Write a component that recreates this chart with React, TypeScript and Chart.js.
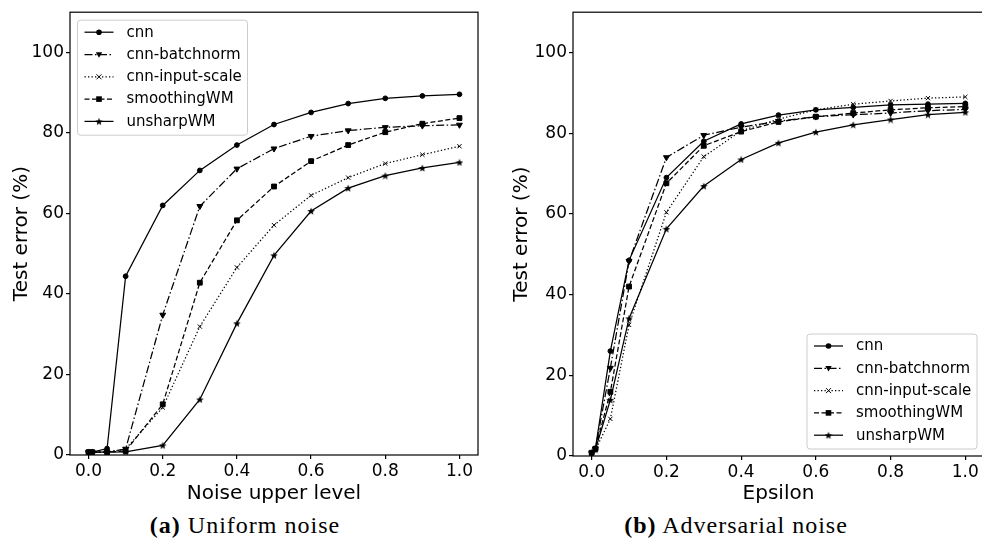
import React, { useEffect, useRef } from 'react';
import { Chart, registerables } from 'chart.js';

Chart.register(...registerables);

// ---------- data ----------
const xValues = [0, 0.01, 0.05, 0.1, 0.2, 0.3, 0.4, 0.5, 0.6, 0.7, 0.8, 0.9, 1.0];
const seriesNames = ['cnn', 'cnn-batchnorm', 'cnn-input-scale', 'smoothingWM', 'unsharpWM'];
const xTicks = [0, 0.2, 0.4, 0.6, 0.8, 1.0];
const yTicks = [0, 20, 40, 60, 80, 100];

// (a) Uniform noise
const uniformCnn = [0.7, 0.7, 1.6, 44.4, 62.0, 70.7, 77.0, 82.1, 85.1, 87.3, 88.6, 89.2, 89.6];
const uniformBatchnorm = [0.7, 0.7, 0.7, 1.5, 34.8, 61.8, 71.1, 76.1, 79.2, 80.6, 81.4, 81.8, 82.0];
const uniformInputScale = [0.7, 0.7, 0.7, 1.5, 11.8, 31.9, 46.6, 57.1, 64.5, 68.9, 72.4, 74.6, 76.7];
const uniformSmoothing = [0.7, 0.7, 0.7, 1.0, 12.6, 42.8, 58.3, 66.7, 73.0, 77.0, 80.2, 82.3, 83.7];
const uniformUnsharp = [0.7, 0.7, 0.7, 0.8, 2.4, 13.8, 32.7, 49.6, 60.6, 66.3, 69.4, 71.3, 72.7];

// (b) Adversarial noise
const advCnn = [0.8, 1.9, 26.0, 48.5, 69.0, 78.0, 82.3, 84.5, 85.8, 86.4, 87.0, 87.2, 87.4];
const advBatchnorm = [0.8, 1.8, 21.8, 48.3, 74.0, 79.5, 81.5, 83.0, 84.1, 84.6, 85.0, 85.6, 85.9];
const advInputScale = [0.8, 1.5, 9.2, 32.5, 60.4, 74.2, 80.6, 83.5, 85.8, 87.2, 88.0, 88.7, 89.0];
const advSmoothing = [0.8, 1.8, 15.9, 42.0, 67.6, 76.9, 80.4, 82.8, 84.1, 85.0, 85.8, 86.3, 86.6];
const advUnsharp = [0.8, 1.6, 13.9, 34.1, 56.3, 66.9, 73.5, 77.6, 80.3, 82.1, 83.4, 84.6, 85.2];

// ---------- styles ----------
const FONT = "'DejaVu Sans', sans-serif";
const dashes = [[], [8, 2.5, 1.5, 2.5], [1.3, 2.2], [5, 2.5], []];
const markerKinds = ['circle', 'triangleDown', 'x', 'square', 'star'];

function makeStar(size: number) {
  const c = document.createElement('canvas');
  c.width = size;
  c.height = size;
  const ctx = c.getContext('2d')!;
  const cx = size / 2, cy = size / 2 + 0.4, R = size / 2, r = R * 0.42;
  ctx.beginPath();
  for (let i = 0; i < 10; i++) {
    const rad = i % 2 === 0 ? R : r;
    const a = -Math.PI / 2 + (i * Math.PI) / 5;
    const px = cx + rad * Math.cos(a), py = cy + rad * Math.sin(a);
    if (i === 0) ctx.moveTo(px, py); else ctx.lineTo(px, py);
  }
  ctx.closePath();
  ctx.fillStyle = '#000';
  ctx.fill();
  return c;
}

function drawMarker(ctx: CanvasRenderingContext2D, kind: string, x: number, y: number, star: HTMLCanvasElement) {
  ctx.save();
  ctx.setLineDash([]);
  ctx.fillStyle = '#000';
  ctx.strokeStyle = '#000';
  ctx.lineWidth = 1;
  ctx.beginPath();
  if (kind === 'circle') {
    ctx.arc(x, y, 2.8, 0, Math.PI * 2);
    ctx.fill();
  } else if (kind === 'triangleDown') {
    ctx.moveTo(x - 3.2, y - 2.2);
    ctx.lineTo(x + 3.2, y - 2.2);
    ctx.lineTo(x, y + 3.2);
    ctx.closePath();
    ctx.fill();
  } else if (kind === 'x') {
    ctx.moveTo(x - 2.5, y - 2.5); ctx.lineTo(x + 2.5, y + 2.5);
    ctx.moveTo(x + 2.5, y - 2.5); ctx.lineTo(x - 2.5, y + 2.5);
    ctx.stroke();
  } else if (kind === 'square') {
    ctx.fillRect(x - 2.8, y - 2.8, 5.6, 5.6);
  } else if (kind === 'star') {
    ctx.drawImage(star, x - star.width / 2, y - star.height / 2);
  }
  ctx.restore();
}

type Layout = {
  width: number;
  height: number;
  yAxisWidth: number;
  padRight: number;
  top: number;
  bottom: number;
  legend: 'topleft' | 'bottomright';
};

function makeConfig(values: number[][], xTitle: string, lay: Layout) {
  const star = makeStar(8);
  const pointStyles: any[] = ['circle', 'triangle', 'crossRot', 'rect', star];
  const pointRadius = [2.4, 3.4, 3, 3.4, 4];
  const pointRotation = [0, 180, 0, 0, 0];

  const datasets = values.map((vals, i) => ({
    label: seriesNames[i],
    data: xValues.map((x, j) => ({ x, y: vals[j] })),
    borderColor: '#000',
    backgroundColor: '#000',
    borderWidth: 1.25,
    borderDash: dashes[i],
    pointStyle: pointStyles[i],
    pointRadius: pointRadius[i],
    pointRotation: pointRotation[i],
    pointBackgroundColor: '#000',
    pointBorderColor: '#000',
    pointBorderWidth: 1,
    tension: 0,
    fill: false,
  }));

  const framePlugin = {
    id: 'frame',
    afterDraw(chart: any) {
      const { ctx, chartArea } = chart;
      ctx.save();
      ctx.strokeStyle = '#000';
      ctx.lineWidth = 1.2;
      ctx.setLineDash([]);
      ctx.strokeRect(chartArea.left, chartArea.top, chartArea.right - chartArea.left, chartArea.bottom - chartArea.top);
      ctx.restore();
    },
  };

  const legendPlugin = {
    id: 'mplLegend',
    afterDraw(chart: any) {
      const { ctx, chartArea } = chart;
      const w = 170, h = 115;
      let bx: number, by: number;
      if (lay.legend === 'topleft') {
        bx = chartArea.left + 7.5;
        by = chartArea.top + 8;
      } else {
        bx = chartArea.right - 7 - w;
        by = chartArea.bottom - 7 - h;
      }
      ctx.save();
      ctx.beginPath();
      const r = 3;
      ctx.moveTo(bx + r, by);
      ctx.lineTo(bx + w - r, by);
      ctx.arcTo(bx + w, by, bx + w, by + r, r);
      ctx.lineTo(bx + w, by + h - r);
      ctx.arcTo(bx + w, by + h, bx + w - r, by + h, r);
      ctx.lineTo(bx + r, by + h);
      ctx.arcTo(bx, by + h, bx, by + h - r, r);
      ctx.lineTo(bx, by + r);
      ctx.arcTo(bx, by, bx + r, by, r);
      ctx.closePath();
      ctx.fillStyle = 'rgba(255,255,255,0.8)';
      ctx.fill();
      ctx.strokeStyle = '#cccccc';
      ctx.lineWidth = 1;
      ctx.stroke();
      seriesNames.forEach((name, i) => {
        const ry = by + 12 + i * 22.3;
        ctx.save();
        ctx.strokeStyle = '#000';
        ctx.lineWidth = 1.25;
        ctx.setLineDash(dashes[i]);
        ctx.beginPath();
        ctx.moveTo(bx + 7, ry);
        ctx.lineTo(bx + 36, ry);
        ctx.stroke();
        ctx.restore();
        drawMarker(ctx, markerKinds[i], bx + 21.5, ry, star);
        ctx.fillStyle = '#000';
        ctx.font = `15px ${FONT}`;
        ctx.textBaseline = 'middle';
        ctx.textAlign = 'left';
        ctx.fillText(name, bx + 49, ry + 0.5);
      });
      ctx.restore();
    },
  };

  const tickFont = { family: FONT, size: 17 };
  const titleFont = { family: FONT, size: 20 };

  return {
    type: 'line' as const,
    data: { datasets },
    plugins: [framePlugin, legendPlugin],
    options: {
      animation: false as const,
      responsive: false,
      maintainAspectRatio: false,
      layout: { padding: { top: lay.top, right: lay.padRight, left: 0, bottom: 0 } },
      plugins: {
        legend: { display: false },
        tooltip: { enabled: false },
      },
      scales: {
        x: {
          type: 'linear' as const,
          min: -0.05,
          max: 1.05,
          afterBuildTicks: (s: any) => {
            s.ticks = xTicks.map((v) => ({ value: v }));
          },
          afterFit: (s: any) => {
            s.height = lay.height - lay.bottom;
          },
          ticks: {
            callback: (v: any) => Number(v).toFixed(1),
            font: tickFont,
            color: '#000',
            padding: 2,
            maxRotation: 0,
            autoSkip: false,
          },
          grid: { drawOnChartArea: false, drawTicks: true, tickLength: 4, color: '#000', lineWidth: 1.2 },
          border: { display: false },
          title: {
            display: true,
            text: xTitle,
            font: titleFont,
            color: '#000',
            padding: { top: 0, bottom: 0 },
          },
        },
        y: {
          type: 'linear' as const,
          min: 0,
          max: 110,
          afterBuildTicks: (s: any) => {
            s.ticks = yTicks.map((v) => ({ value: v }));
          },
          afterFit: (s: any) => {
            s.width = lay.yAxisWidth;
          },
          ticks: {
            callback: (v: any) => String(Math.round(Number(v))),
            font: tickFont,
            color: '#000',
            padding: 2,
          },
          grid: { drawOnChartArea: false, drawTicks: true, tickLength: 4, color: '#000', lineWidth: 1.2 },
          border: { display: false },
          title: {
            display: true,
            text: 'Test error (%)',
            font: titleFont,
            color: '#000',
            padding: { top: 10, bottom: 0 },
          },
        },
      },
    },
  };
}

export default function App() {
  const leftRef = useRef<HTMLCanvasElement>(null);
  const rightRef = useRef<HTMLCanvasElement>(null);

  useEffect(() => {
    const c1 = new Chart(
      leftRef.current!,
      makeConfig(
        [uniformCnn, uniformBatchnorm, uniformInputScale, uniformSmoothing, uniformUnsharp],
        'Noise upper level',
        { width: 491, height: 506, yAxisWidth: 70, padRight: 13, top: 4, bottom: 455, legend: 'topleft' }
      ) as any
    );
    const c2 = new Chart(
      rightRef.current!,
      makeConfig(
        [advCnn, advBatchnorm, advInputScale, advSmoothing, advUnsharp],
        'Epsilon',
        { width: 500, height: 506, yAxisWidth: 73, padRight: 16, top: 3.5, bottom: 456, legend: 'bottomright' }
      ) as any
    );
    return () => {
      c1.destroy();
      c2.destroy();
    };
  }, []);

  const captionStyle: React.CSSProperties = {
    position: 'absolute',
    top: 510,
    transform: 'translateX(-50%)',
    fontFamily: "'Liberation Serif', serif",
    fontSize: 24,
    letterSpacing: '1px',
    lineHeight: '30px',
    whiteSpace: 'nowrap',
    color: '#000',
  };

  return (
    <div style={{ position: 'fixed', left: 0, top: 0, width: 982, height: 552, overflow: 'hidden', background: '#fff' }}>
      <canvas ref={leftRef} width={491} height={506} style={{ position: 'absolute', left: 0, top: 0, width: 491, height: 506 }} />
      <canvas ref={rightRef} width={500} height={506} style={{ position: 'absolute', left: 500, top: 0, width: 500, height: 506 }} />
      <div style={{ ...captionStyle, left: 245 }}>
        <b>(a)</b> Uniform noise
      </div>
      <div style={{ ...captionStyle, left: 736 }}>
        <b>(b)</b> Adversarial noise
      </div>
    </div>
  );
}
